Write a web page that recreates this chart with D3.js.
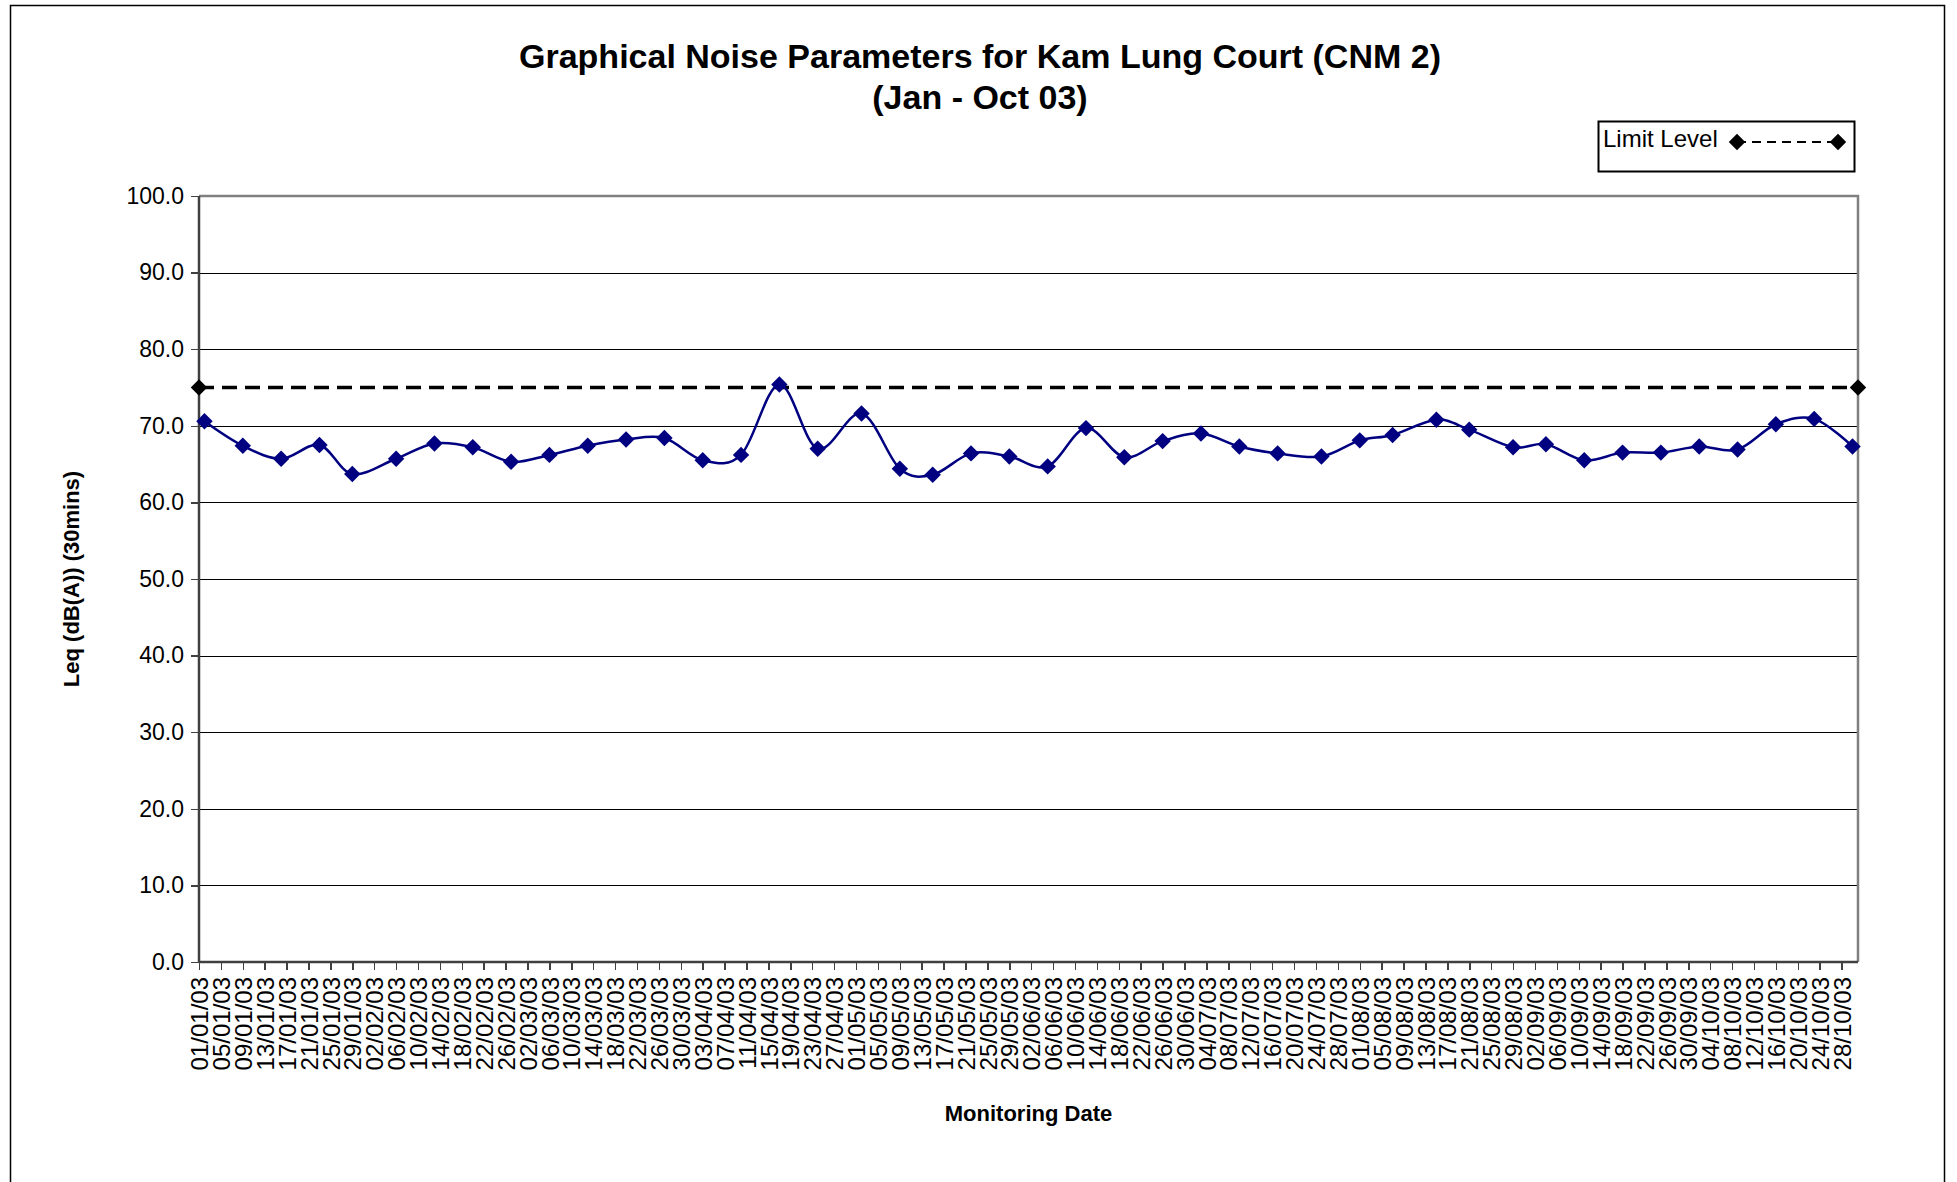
<!DOCTYPE html>
<html lang="en">
<head>
    <meta charset="UTF-8">
    <script src="https://cdnjs.cloudflare.com/ajax/libs/d3/7.8.5/d3.min.js"></script>
    <style>
body {
  margin: 0;
  background: white;
  font-family: "Liberation Sans", Arial, sans-serif;
}
.axis path { display: none; }
.axis line { stroke: #404040; stroke-width: 1.5; shape-rendering: crispEdges; }
.axis text { font-family: "Liberation Sans", Arial, sans-serif; font-size: 23px; fill: #000; }
.x.axis text { font-size: 24px; }
.grid line { stroke: #000; stroke-width: 1; shape-rendering: crispEdges; }
    </style>
    <title>Kam Lung Court CNM 2</title>
</head>
<body>
<script>
// monitoring dates (dd/mm/yy) and Leq readings
var dates = ["02/01/03","09/01/03","16/01/03","23/01/03","29/01/03","06/02/03","13/02/03","20/02/03","27/02/03",
  "06/03/03","13/03/03","20/03/03","27/03/03","03/04/03","10/04/03","17/04/03","24/04/03","02/05/03",
  "09/05/03","15/05/03","22/05/03","29/05/03","05/06/03","12/06/03","19/06/03","26/06/03","03/07/03",
  "10/07/03","17/07/03","25/07/03","01/08/03","07/08/03","15/08/03","21/08/03","29/08/03","04/09/03",
  "11/09/03","18/09/03","25/09/03","02/10/03","09/10/03","16/10/03","23/10/03","30/10/03"];
var leq = [70.6,67.4,65.7,67.5,63.7,65.7,67.7,67.2,65.3,66.2,67.4,68.2,68.4,65.5,66.2,75.4,67.0,71.6,
  64.4,63.6,66.4,66.0,64.7,69.7,65.9,68.0,69.0,67.3,66.4,66.0,68.1,68.8,70.8,69.5,67.2,67.6,
  65.5,66.5,66.5,67.3,66.9,70.2,70.9,67.3];

var limitDates = ["01/01/03","31/10/03"];
var limitValues = [75, 75];

var xTickLabels = ["01/01/03","05/01/03","09/01/03","13/01/03","17/01/03","21/01/03","25/01/03","29/01/03",
  "02/02/03","06/02/03","10/02/03","14/02/03","18/02/03","22/02/03","26/02/03",
  "02/03/03","06/03/03","10/03/03","14/03/03","18/03/03","22/03/03","26/03/03","30/03/03",
  "03/04/03","07/04/03","11/04/03","15/04/03","19/04/03","23/04/03","27/04/03",
  "01/05/03","05/05/03","09/05/03","13/05/03","17/05/03","21/05/03","25/05/03","29/05/03",
  "02/06/03","06/06/03","10/06/03","14/06/03","18/06/03","22/06/03","26/06/03","30/06/03",
  "04/07/03","08/07/03","12/07/03","16/07/03","20/07/03","24/07/03","28/07/03",
  "01/08/03","05/08/03","09/08/03","13/08/03","17/08/03","21/08/03","25/08/03","29/08/03",
  "02/09/03","06/09/03","10/09/03","14/09/03","18/09/03","22/09/03","26/09/03","30/09/03",
  "04/10/03","08/10/03","12/10/03","16/10/03","20/10/03","24/10/03","28/10/03"];
var yTicks = [0,10,20,30,40,50,60,70,80,90,100];

var parse = d3.utcParse("%d/%m/%y");
var fmt = d3.utcFormat("%d/%m/%y");

var W = 1957, H = 1182;
var plotLeft = 199, plotRight = 1858, plotTop = 196, plotBottom = 962;

var x = d3.scaleUtc()
  .domain([parse("01/01/03"), parse("31/10/03")])
  .range([plotLeft, plotRight]);
var y = d3.scaleLinear()
  .domain([0, 100])
  .range([plotBottom, plotTop]);

var svg = d3.select("body").append("svg")
  .attr("width", W)
  .attr("height", H);

svg.append("rect").attr("width", W).attr("height", H).attr("fill", "white");

// chart border
svg.append("rect")
  .attr("x", 10.5).attr("y", 5.5)
  .attr("width", 1934).attr("height", 1200)
  .attr("fill", "none").attr("stroke", "#000").attr("stroke-width", 1.5);

// gridlines
svg.append("g").attr("class", "grid")
  .selectAll("line")
  .data(yTicks.filter(d => d > 0 && d < 100))
  .enter().append("line")
  .attr("x1", plotLeft).attr("x2", plotRight)
  .attr("y1", d => Math.round(y(d)) + 0.5)
  .attr("y2", d => Math.round(y(d)) + 0.5);

// plot frame (top / right grey)
svg.append("path")
  .attr("d", "M" + plotLeft + "," + plotTop + "H" + plotRight + "V" + plotBottom)
  .attr("fill", "none").attr("stroke", "#808080").attr("stroke-width", 2.5);

// axes
svg.append("g")
  .attr("class", "y axis")
  .attr("transform", "translate(" + plotLeft + ",0)")
  .call(d3.axisLeft(y).tickValues(yTicks).tickFormat(d3.format(".1f")).tickSize(8).tickPadding(7));

svg.append("g")
  .attr("class", "x axis")
  .attr("transform", "translate(0," + plotBottom + ")")
  .call(d3.axisBottom(x).tickValues(xTickLabels.map(parse)).tickFormat(fmt).tickSize(8))
  .selectAll("text")
  .attr("transform", "rotate(-90)")
  .attr("x", -15)
  .attr("y", 0)
  .attr("dy", "0.36em")
  .style("text-anchor", "end");

svg.append("line")
  .attr("x1", plotLeft).attr("x2", plotLeft).attr("y1", plotTop).attr("y2", plotBottom + 1)
  .attr("stroke", "#404040").attr("stroke-width", 2.5);
svg.append("line")
  .attr("x1", plotLeft).attr("x2", plotRight).attr("y1", plotBottom).attr("y2", plotBottom)
  .attr("stroke", "#404040").attr("stroke-width", 2.5);

var diamond = d3.symbol().type(d3.symbolSquare).size(135);

// limit level
var limit = limitDates.map((d, i) => ({date: parse(d), v: limitValues[i]}));
svg.append("path")
  .datum(limit)
  .attr("fill", "none")
  .attr("stroke", "#000")
  .attr("stroke-width", 3.5)
  .attr("stroke-dasharray", "15,8")
  .attr("d", d3.line().x(d => x(d.date)).y(d => y(d.v)));
svg.selectAll(".limit-pt")
  .data(limit)
  .enter().append("path")
  .attr("class", "limit-pt")
  .attr("d", diamond)
  .attr("fill", "#000")
  .attr("transform", d => "translate(" + x(d.date) + "," + y(d.v) + ") rotate(45)");

// measured Leq
var series = dates.map((d, i) => ({date: parse(d), v: leq[i]}));
svg.append("path")
  .datum(series)
  .attr("fill", "none")
  .attr("stroke", "#000080")
  .attr("stroke-width", 2.5)
  .attr("d", d3.line().curve(d3.curveCatmullRom.alpha(0)).x(d => x(d.date)).y(d => y(d.v)));
svg.selectAll(".pt")
  .data(series)
  .enter().append("path")
  .attr("class", "pt")
  .attr("d", diamond)
  .attr("fill", "#000080")
  .attr("transform", d => "translate(" + x(d.date) + "," + y(d.v) + ") rotate(45)");

// titles
svg.append("text")
  .attr("x", 980).attr("y", 68)
  .attr("text-anchor", "middle")
  .style("font-size", "34px").style("font-weight", "bold")
  .text("Graphical Noise Parameters for Kam Lung Court (CNM 2)");
svg.append("text")
  .attr("x", 980).attr("y", 109)
  .attr("text-anchor", "middle")
  .style("font-size", "34px").style("font-weight", "bold")
  .text("(Jan - Oct 03)");

svg.append("text")
  .attr("x", (plotLeft + plotRight) / 2).attr("y", 1121)
  .attr("text-anchor", "middle")
  .style("font-size", "22px").style("font-weight", "bold")
  .text("Monitoring Date");

svg.append("text")
  .attr("transform", "translate(79," + ((plotTop + plotBottom) / 2) + ") rotate(-90)")
  .attr("text-anchor", "middle")
  .style("font-size", "22px").style("font-weight", "bold")
  .text("Leq (dB(A)) (30mins)");

// legend
var legend = svg.append("g").attr("class", "legend");
legend.append("rect")
  .attr("x", 1598.5).attr("y", 121.5)
  .attr("width", 256).attr("height", 50)
  .attr("fill", "white").attr("stroke", "#000").attr("stroke-width", 2);
legend.append("text")
  .attr("x", 1603).attr("y", 147)
  .style("font-size", "24px")
  .text("Limit Level");
legend.append("line")
  .attr("x1", 1737).attr("x2", 1838).attr("y1", 142).attr("y2", 142)
  .attr("stroke", "#000").attr("stroke-width", 2).attr("stroke-dasharray", "9,6");
legend.selectAll(".lg-pt")
  .data([1737, 1838])
  .enter().append("path")
  .attr("d", diamond)
  .attr("fill", "#000")
  .attr("transform", d => "translate(" + d + ",142) rotate(45)");
</script>
</body>
</html>
